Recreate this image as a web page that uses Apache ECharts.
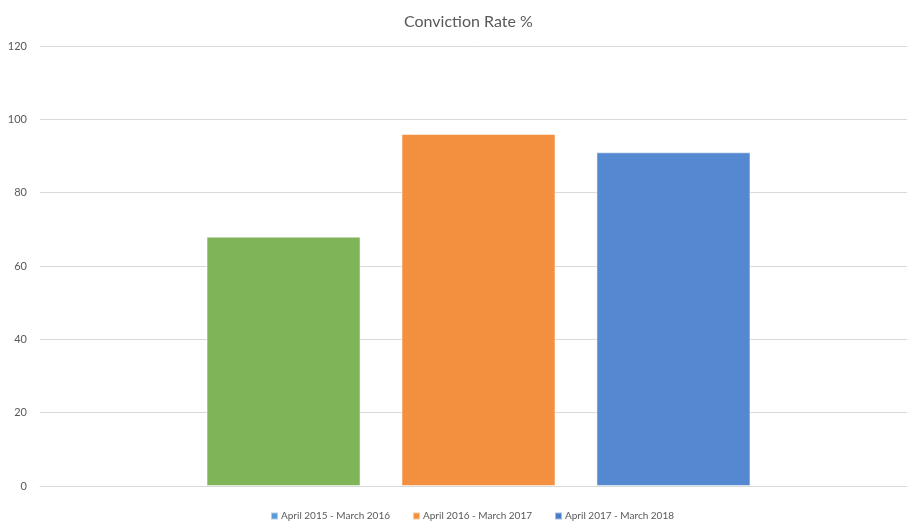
<!DOCTYPE html>
<html>
<head>
<meta charset="utf-8">
<script src="https://cdn.jsdelivr.net/npm/echarts@6/dist/echarts.min.js"></script>
<style>
  html, body { margin: 0; padding: 0; background: #fff; }
  #chart { width: 907px; height: 523px; }
</style>
</head>
<body>
<div id="chart"></div>
<script>
// Conviction rate by financial year
const categories = ['Conviction Rate %'];
const periods = ['April 2015 - March 2016', 'April 2016 - March 2017', 'April 2017 - March 2018'];
const rates = [68, 96, 91];
const barColors = ['#7fb458', '#f3903f', '#5488d0'];
const legendColors = ['#5b9bd5', '#f3903f', '#4a7bc8'];
const yTicks = { min: 0, max: 120, interval: 20 };

const FONT = 'Lato, "Open Sans", sans-serif';

const chart = echarts.init(document.getElementById('chart'));
chart.setOption({
  animation: false,
  backgroundColor: '#ffffff',
  title: {
    text: 'Conviction Rate %',
    left: 399,
    top: 9,
    textStyle: { fontFamily: FONT, fontSize: 16, fontWeight: 'normal', color: '#595959' }
  },
  legend: {
    top: 511,
    left: 270,
    padding: 0,
    itemWidth: 7,
    itemHeight: 7,
    itemGap: 22,
    icon: 'rect',
    textStyle: { fontFamily: FONT, fontSize: 10, color: '#595959', padding: [0, 0, 0, -2] },
    data: periods.map((p, i) => ({ name: p, itemStyle: { color: legendColors[i] } }))
  },
  // grid 0 carries the value axis and gridlines, grid 1 the bar group
  grid: [
    { left: 40, right: 0, top: 46, bottom: 37 },
    { left: 50, right: 0, top: 46, bottom: 37 }
  ],
  xAxis: [
    {
      type: 'category',
      gridIndex: 0,
      data: categories,
      axisLine: { show: true, lineStyle: { color: '#d9d9d9' } },
      axisTick: { show: false },
      axisLabel: { show: false }
    },
    {
      type: 'category',
      gridIndex: 1,
      data: categories,
      axisLine: { show: false },
      axisTick: { show: false },
      axisLabel: { show: false }
    }
  ],
  yAxis: [
    {
      type: 'value',
      gridIndex: 0,
      min: yTicks.min,
      max: yTicks.max,
      interval: yTicks.interval,
      axisLine: { show: false },
      axisTick: { show: false },
      axisLabel: { fontFamily: FONT, fontSize: 11, color: '#595959', margin: 13 },
      splitLine: { lineStyle: { color: '#d9d9d9', width: 1 } }
    },
    {
      type: 'value',
      gridIndex: 1,
      min: yTicks.min,
      max: yTicks.max,
      interval: yTicks.interval,
      show: false
    }
  ],
  series: periods.map((p, i) => ({
    name: p,
    type: 'bar',
    xAxisIndex: 1,
    yAxisIndex: 1,
    data: [rates[i]],
    barWidth: 154,
    barGap: '26.6%',
    itemStyle: { color: barColors[i], borderColor: 'rgba(255,255,255,0.5)', borderWidth: 1 }
  }))
});
</script>
</body>
</html>
